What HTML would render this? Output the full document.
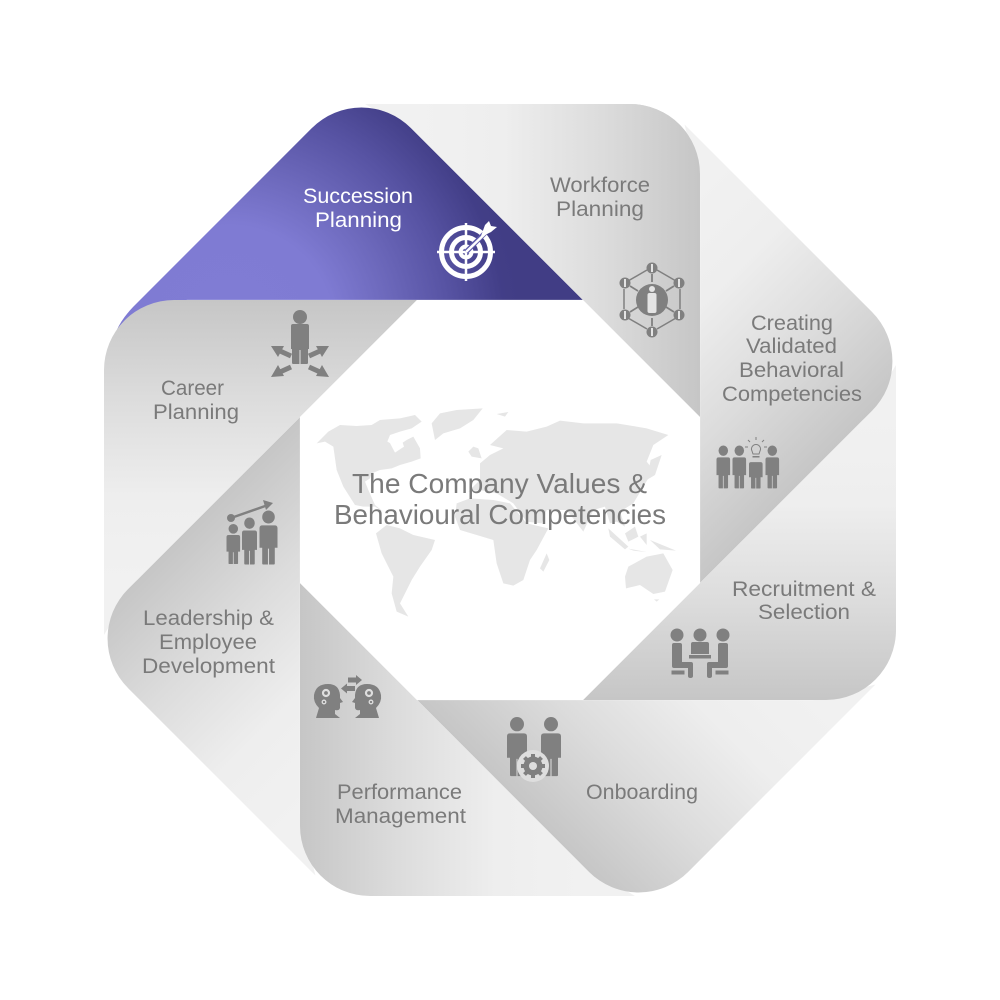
<!DOCTYPE html>
<html>
<head>
<meta charset="utf-8">
<style>
html,body{margin:0;padding:0;background:#fff;}
svg{display:block;}
text{font-family:"Liberation Sans",sans-serif;font-size:21.5px;fill:#7a7a7a;}
</style>
</head>
<body>
<svg width="1000" height="1000" viewBox="0 0 1000 1000" xmlns="http://www.w3.org/2000/svg">
<defs>
<linearGradient id="g" gradientUnits="userSpaceOnUse" x1="420" y1="0" x2="700" y2="0">
<stop offset="0" stop-color="#f1f1f1"/>
<stop offset=".3" stop-color="#eeeeee"/>
<stop offset=".65" stop-color="#dcdcdc"/>
<stop offset="1" stop-color="#c6c6c6"/>
</linearGradient>
<radialGradient id="p" gradientUnits="userSpaceOnUse" cx="230" cy="330" r="290" gradientTransform="rotate(45 500 500)">
<stop offset="0" stop-color="#807cd4"/>
<stop offset=".36" stop-color="#7f7bd3"/>
<stop offset=".55" stop-color="#6d69bc"/>
<stop offset=".76" stop-color="#5753a3"/>
<stop offset=".95" stop-color="#423e87"/>
<stop offset="1" stop-color="#413d85"/>
</radialGradient>
<path id="b" d="M365 104L630 104A70 70 0 0 1 700 174L700 417L420 137Z"/>
<path id="body" d="M3 16h14q3 0 3 3v21h-3v17q0 1-1 1h-5.400v-17h-1.200v17h-5.400q-1 0-1-1v-17h-3v-21q0-3 3-3z"/>
<g id="person"><circle cx="10" cy="7" r="7"/><use href="#body"/></g>
</defs>

<rect width="1000" height="1000" fill="#fff"/>

<!-- ribbons -->
<use href="#b" fill="url(#g)"/>
<path d="M326 118L349 109Q360 104.500 377 104L630 104A70 70 0 0 1 700 174L700 417L420 137Z" fill="url(#p)" transform="rotate(315 500 500)"/>
<use href="#b" fill="url(#g)" transform="rotate(270 500 500)"/>
<use href="#b" fill="url(#g)" transform="rotate(225 500 500)"/>
<use href="#b" fill="url(#g)" transform="rotate(180 500 500)"/>
<use href="#b" fill="url(#g)" transform="rotate(135 500 500)"/>
<use href="#b" fill="url(#g)" transform="rotate(90 500 500)"/>
<use href="#b" fill="url(#g)" transform="rotate(45 500 500)"/>
<path d="M387 104L630 104A70 70 0 0 1 700 174L700 417Z" fill="url(#g)"/>

<!-- hole -->
<polygon points="417,300 583,300 700,417 700,583 583,700 417,700 300,583 300,417" fill="#fff"/>

<!-- world map -->
<g fill="#e6e6e6" transform="translate(300 390) scale(.33333)">
<polygon points="50,160 85,125 120,105 170,108 215,105 240,90 300,85 345,75 365,95 335,115 300,125 270,135 262,155 290,170 320,150 340,140 360,175 362,205 335,215 300,225 275,235 240,240 215,250 210,265 195,275 205,300 225,345 250,365 225,350 190,350 165,345 130,290 110,240 100,170 75,155"/>
<polygon points="395,100 420,70 470,60 548,55 520,90 480,115 430,130 405,150"/>
<polygon points="228,430 260,405 300,415 340,435 405,450 395,480 360,530 335,570 320,600 300,640 325,680 290,665 275,610 280,560 245,490"/>
<polygon points="470,340 510,325 580,330 630,340 680,400 745,415 710,480 690,510 670,570 640,587 610,580 590,520 580,450 530,435 480,420 465,380"/>
<polygon points="740,490 748,510 730,545 720,535"/>
<polygon points="505,305 540,270 540,220 570,195 610,175 570,165 620,120 680,125 740,110 780,92 850,100 950,100 1040,115 1105,135 1060,165 1040,215 1060,240 1030,290 1000,340 960,365 975,410 950,395 930,400 915,350 880,360 850,425 800,360 740,360 725,400 680,395 640,340 590,310 540,300"/>
<polygon points="505,185 520,170 535,175 545,205 515,200"/>
<polygon points="590,72 625,66 615,80"/>
<polygon points="975,560 985,530 1040,500 1090,490 1118,540 1095,605 1060,612 1020,585 978,595"/>
<polygon points="925,415 985,470 975,478 930,440"/>
<polygon points="985,476 1040,486 1000,482"/>
<polygon points="975,430 1005,410 1015,440 985,455"/>
<polygon points="1050,450 1128,482 1080,478"/>
<polygon points="1020,440 1040,430 1040,465"/>
<polygon points="1052,210 1085,195 1065,255 1040,270"/>
<polygon points="1062,628 1078,628 1070,635"/>
<polygon points="265,150 300,135 312,170 285,188" fill="#fff"/>
</g>

<!-- title -->
<text x="352" y="493" textLength="295" lengthAdjust="spacingAndGlyphs" style="font-size:27.8px">The Company Values &amp;</text>
<text x="334" y="524" textLength="332" lengthAdjust="spacingAndGlyphs" style="font-size:27.8px">Behavioural Competencies</text>

<!-- labels -->
<text x="303" y="203" textLength="110" lengthAdjust="spacingAndGlyphs" style="fill:#fff">Succession</text>
<text x="315" y="227" textLength="87" lengthAdjust="spacingAndGlyphs" style="fill:#fff">Planning</text>
<text x="550" y="192" textLength="100" lengthAdjust="spacingAndGlyphs">Workforce</text>
<text x="556" y="216" textLength="88" lengthAdjust="spacingAndGlyphs">Planning</text>
<text x="751" y="330" textLength="82" lengthAdjust="spacingAndGlyphs">Creating</text>
<text x="746" y="353" textLength="91" lengthAdjust="spacingAndGlyphs">Validated</text>
<text x="739" y="377" textLength="105" lengthAdjust="spacingAndGlyphs">Behavioral</text>
<text x="722" y="401" textLength="140" lengthAdjust="spacingAndGlyphs">Competencies</text>
<text x="161" y="395" textLength="63" lengthAdjust="spacingAndGlyphs">Career</text>
<text x="153" y="419" textLength="86" lengthAdjust="spacingAndGlyphs">Planning</text>
<text x="143" y="625" textLength="131" lengthAdjust="spacingAndGlyphs">Leadership &amp;</text>
<text x="159" y="649" textLength="98" lengthAdjust="spacingAndGlyphs">Employee</text>
<text x="142" y="673" textLength="133" lengthAdjust="spacingAndGlyphs">Development</text>
<text x="337" y="799" textLength="125" lengthAdjust="spacingAndGlyphs">Performance</text>
<text x="335" y="823" textLength="131" lengthAdjust="spacingAndGlyphs">Management</text>
<text x="586" y="799" textLength="112" lengthAdjust="spacingAndGlyphs">Onboarding</text>
<text x="732" y="596" textLength="144" lengthAdjust="spacingAndGlyphs">Recruitment &amp;</text>
<text x="758" y="619" textLength="92" lengthAdjust="spacingAndGlyphs">Selection</text>

<!-- target icon -->
<g fill="none" stroke="#fff">
<circle cx="466" cy="252" r="24.500" stroke-width="5"/>
<circle cx="466" cy="252" r="14.500" stroke-width="5"/>
<circle cx="466" cy="252" r="5.500" stroke-width="4"/>
<path d="M437 252H495M466 223V281" stroke-width="2.500"/>
<path d="M466 252L488 230" stroke="#5f5bab" stroke-width="5"/>
<path d="M466 252L490 229" stroke-width="2.500"/>
</g>
<polygon points="481,236 485,225 489,221 491,226 497,227 491,232 485,235" fill="#fff"/>

<!-- career icon -->
<g fill="#808080">
<circle cx="300" cy="317" r="7"/>
<path d="M293 324h14q2 0 2 2v23h-1v14q0 1-2 1h-5.400v-14h-1.200v14h-5.400q-2 0-2-1v-14h-1v-23q0-2 2-2z"/>
<polygon points="271,346 284,346 278,357"/>
<polygon points="329,346 316,346 322,357"/>
<polygon points="271,377 278,365 284,376"/>
<polygon points="329,377 322,365 316,376"/>
</g>
<g stroke="#808080" stroke-width="5" fill="none">
<path d="M280 351L291 356M320 351L309 356M280 372L291 367M320 372L309 367"/>
</g>

<!-- network icon -->
<g stroke="#808080" stroke-width="1.500" fill="none">
<path d="M628 281L647 270M657 270L676 281M680 289V309M676 318L657 329M647 329L628 318M624 309V289"/>
<path d="M652 274V282M630 286L638 291M674 286L666 291M630 312L638 307M674 312L666 307M652 326V318" stroke-width="1.800"/>
</g>
<g fill="#808080">
<circle cx="652" cy="300" r="16"/>
<circle cx="652" cy="268" r="5.500"/>
<circle cx="625" cy="283" r="5.500"/>
<circle cx="679" cy="283" r="5.500"/>
<circle cx="625" cy="315" r="5.500"/>
<circle cx="679" cy="315" r="5.500"/>
<circle cx="652" cy="332" r="5.500"/>
</g>
<g fill="#e4e4e4">
<circle cx="652" cy="289" r="3"/>
<rect x="647.500" y="293" width="9" height="20" rx="2"/>
<rect x="651" y="264" width="2" height="8"/>
<rect x="624" y="279" width="2" height="8"/>
<rect x="678" y="279" width="2" height="8"/>
<rect x="624" y="311" width="2" height="8"/>
<rect x="678" y="311" width="2" height="8"/>
<rect x="651" y="328" width="2" height="8"/>
</g>

<!-- creating icon -->
<g fill="#808080">
<use href="#person" transform="translate(716.500 445.500) scale(.68 .74)"/>
<use href="#person" transform="translate(732.500 445.500) scale(.68 .74)"/>
<use href="#body" transform="translate(749 452) scale(.68 .63)"/>
<use href="#person" transform="translate(765.500 445.500) scale(.68 .74)"/>
<path d="M752 451a4.500 4.500 0 1 1 8 0l-1 3h-6z" fill="none" stroke="#808080" stroke-width="1"/>
<rect x="752.500" y="456" width="7" height="1.500"/>
<path d="M756 437v3M748 440l2 2M764 440l-2 2M745 447h3M767 447h-3" stroke="#808080" stroke-width="1"/>
</g>

<!-- leadership icon -->
<g fill="#808080">
<circle cx="231" cy="518" r="4"/>
<path d="M231 518L268 505" stroke="#808080" stroke-width="2.500"/>
<polygon points="273,503 263,500 266,510"/>
<use href="#person" transform="translate(226.500 524) scale(.68 .69)"/>
<use href="#person" transform="translate(242 517.500) scale(.75 .81)"/>
<use href="#person" transform="translate(259.500 510.500) scale(.9 .93)"/>
</g>

<!-- performance icon -->
<g fill="#808080">
<path id="hd" d="M316 718L319 708Q313 702 314 695Q316 684 328 684Q339 684 340 695L340 698L343 702L340 703L340 708Q339 711 335 710L335 714L340 718Z"/>
<path d="M316 718L319 708Q313 702 314 695Q316 684 328 684Q339 684 340 695L340 698L343 702L340 703L340 708Q339 711 335 710L335 714L340 718Z" transform="translate(695 0) scale(-1 1)"/>
<polygon points="348,677.500 356,677.500 356,675 362,680 356,685 356,682.500 348,682.500"/>
<polygon points="355,686 347,686 347,683.500 341,688.500 347,693.500 347,691 355,691"/>
</g>
<g fill="none" stroke="#dedede">
<circle cx="326" cy="693" r="3" stroke-width="2.200"/>
<circle cx="324" cy="702" r="1.800" stroke-width="1.300"/>
<circle cx="369" cy="693" r="3" stroke-width="2.200"/>
<circle cx="371" cy="702" r="1.800" stroke-width="1.300"/>
</g>

<!-- onboarding icon -->
<g fill="#808080">
<use href="#person" transform="translate(507 717) scale(1 1.02)"/>
<use href="#person" transform="translate(541 717) scale(1 1.02)"/>
</g>
<circle cx="533" cy="766" r="16" fill="#dedede"/>
<g fill="#808080">
<circle cx="533" cy="766" r="9.500"/>
<g stroke="#808080" stroke-width="4">
<path d="M533 754v24M521 766h24M524.500 757.500l17 17M541.500 757.500l-17 17"/>
</g>
</g>
<circle cx="533" cy="766" r="4" fill="#dedede"/>

<!-- recruitment icon -->
<g fill="#808080">
<circle cx="677" cy="635" r="6.500"/>
<circle cx="700" cy="635" r="6.500"/>
<circle cx="723" cy="635" r="6.500"/>
<path d="M672 645q0-2 2-2h6q2 0 2 2v17h9q2 0 2 2v12q0 2-2.500 2t-2.500-2v-8h-14q-2 0-2-2z"/>
<path d="M728 645q0-2-2-2h-6q-2 0-2 2v17h-9q-2 0-2 2v12q0 2 2.500 2t2.500-2v-8h14q2 0 2-2z"/>
<rect x="671.500" y="670.500" width="13" height="4"/>
<rect x="715.500" y="670.500" width="13" height="4"/>
<path d="M693 642h14q2 0 2 2v10h-18v-10q0-2 2-2z"/>
<rect x="689" y="655" width="22" height="3.500"/>
</g>
</svg>
</body>
</html>
